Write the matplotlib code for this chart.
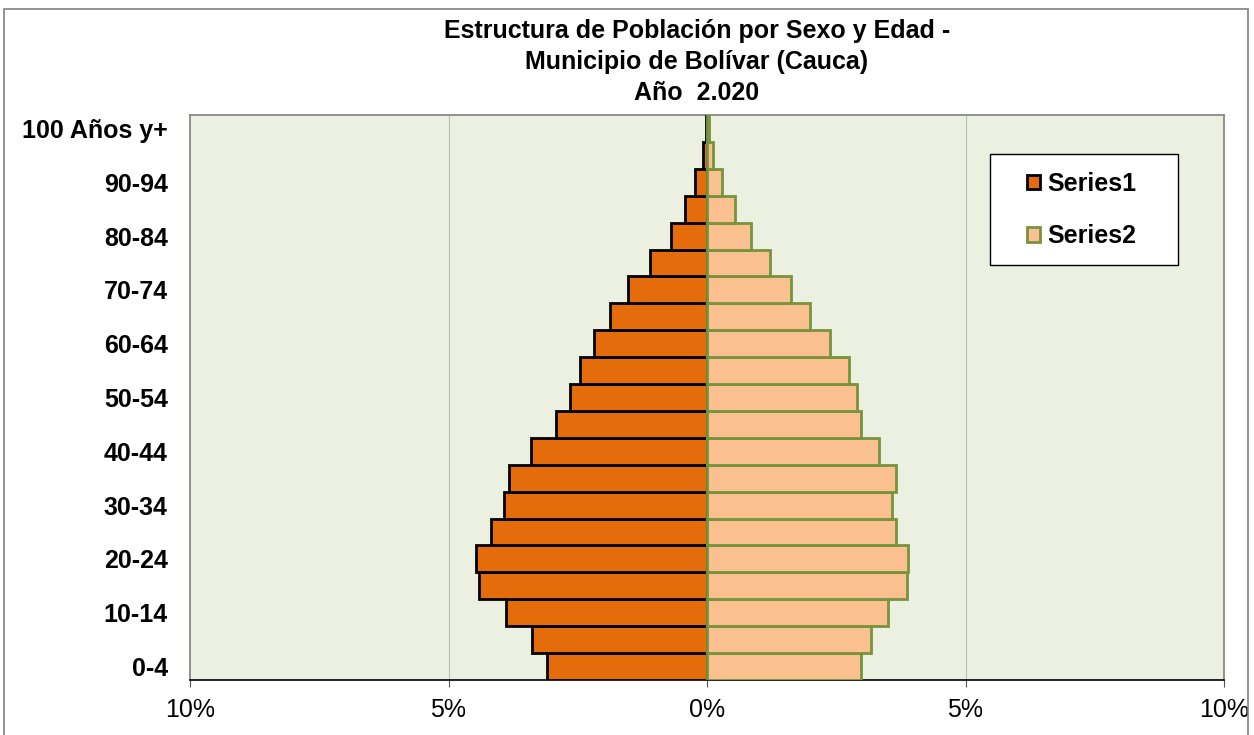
import numpy as np
import matplotlib.pyplot as plt
from matplotlib.patches import Rectangle
from matplotlib.ticker import FuncFormatter

plt.rcParams['font.family'] = ['Liberation Sans', 'DejaVu Sans']

grupos = ["0-4", "5-9", "10-14", "15-19", "20-24", "25-29", "30-34", "35-39",
          "40-44", "45-49", "50-54", "55-59", "60-64", "65-69", "70-74",
          "75-79", "80-84", "85-89", "90-94", "95-99", "100 Años y+"]

# porcentaje de poblacion, Series1 (hombres) y Series2 (mujeres)
series1 = [3.09, 3.38, 3.89, 4.41, 4.47, 4.18, 3.93, 3.83, 3.40, 2.92, 2.65,
           2.46, 2.19, 1.88, 1.53, 1.10, 0.70, 0.43, 0.23, 0.08, 0.02]
series2 = [2.98, 3.17, 3.50, 3.87, 3.89, 3.66, 3.58, 3.66, 3.33, 2.98, 2.90,
           2.75, 2.38, 1.99, 1.62, 1.22, 0.85, 0.54, 0.29, 0.12, 0.03]

titulo = ["Estructura de Población por Sexo y Edad -",
          "Municipio de Bolívar (Cauca)",
          "Año  2.020"]

W, H = 1254, 735
fig = plt.figure(figsize=(W / 100, H / 100), dpi=100)
ax = fig.add_axes([190 / W, 1 - 680 / H, 1034 / W, 565 / H])
ax.set_facecolor("#EBF0E0")

y = np.arange(len(grupos))
ax.barh(y, -np.array(series1), height=1.0, color="#E46C0A", edgecolor="black",
        linewidth=2, label="Series1", zorder=3)
ax.barh(y, series2, height=1.0, color="#FAC090", edgecolor="#77933C",
        linewidth=2, label="Series2", zorder=3)

ax.set_xlim(-10, 10)
ax.set_ylim(-0.5, len(grupos) - 0.5)
ax.set_xticks([-10, -5, 0, 5, 10])
ax.xaxis.set_major_formatter(FuncFormatter(lambda v, p: "%d%%" % abs(v)))
ax.set_yticks(y[::2])
ax.set_yticklabels(grupos[::2], fontsize=18, fontweight="bold")
ax.tick_params(axis="y", length=0, pad=16)
ax.tick_params(axis="x", labelsize=18, length=5, direction="out", color="#555555", pad=8)

for v in [-5, 5]:
    ax.axvline(v, color="#BFBFBF", linewidth=0.8, zorder=1)

for s in ["top", "left", "right"]:
    ax.spines[s].set_color("#808080")
    ax.spines[s].set_linewidth(1.2)
ax.spines["bottom"].set_color("black")
ax.spines["bottom"].set_linewidth(1.2)

# leyenda sin marco + marco dibujado aparte
leg = ax.legend(loc="center left", bbox_to_anchor=((1027 - 190) / 1034, 1 - (210 - 115) / 565),
                prop={"weight": "bold", "size": 18}, frameon=False,
                labelspacing=1.15, handlelength=0.5, handleheight=0.5,
                handletextpad=0.3, borderpad=0, borderaxespad=0)
leg.set_zorder(6)
ax.add_patch(Rectangle(((990 - 190) / 1034, 1 - (265 - 115) / 565), 188 / 1034, 111 / 565,
                       transform=ax.transAxes, facecolor="white", edgecolor="black",
                       linewidth=1.0, zorder=5))

for i, linea in enumerate(titulo):
    fig.text(697 / W, 1 - (31 + 31 * i) / H, linea, ha="center", va="center",
             fontsize=18, fontweight="bold")

# marco exterior del grafico
fig.patches.append(Rectangle((4 / W, -0.05), 1244 / W, 1.05 - 9 / H,
                             transform=fig.transFigure, fill=False,
                             edgecolor="#808080", linewidth=1.2))

fig.savefig("out.png", dpi=100)
